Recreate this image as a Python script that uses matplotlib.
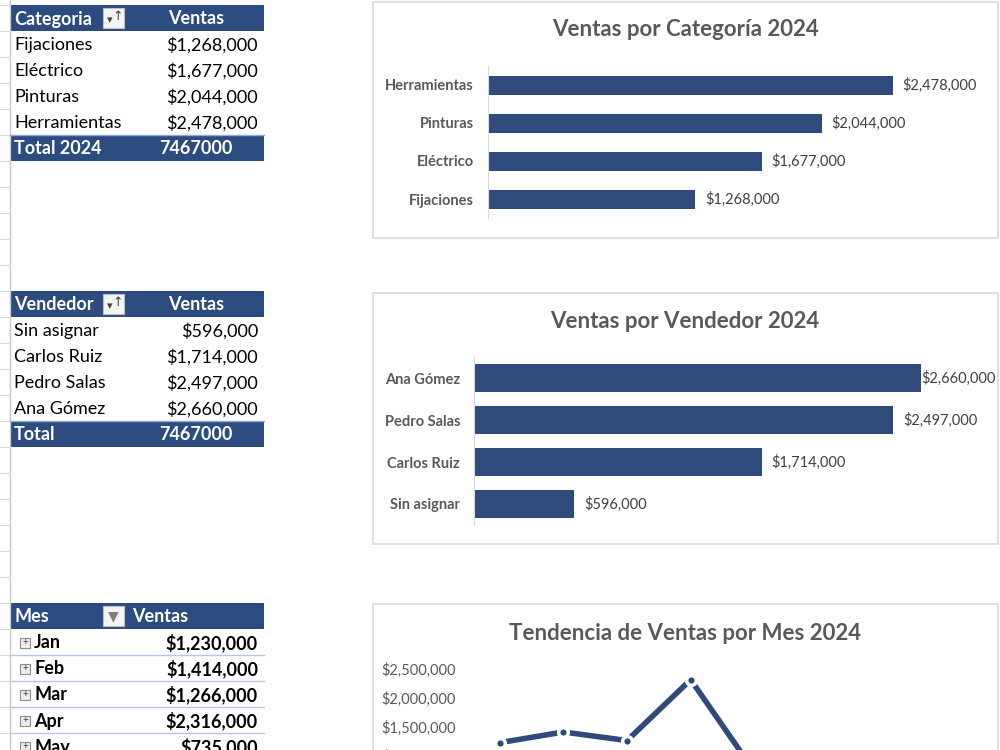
import matplotlib
matplotlib.use("Agg")
import matplotlib.pyplot as plt
import matplotlib.ticker as ticker
from matplotlib.patches import Rectangle

plt.rcParams['font.family'] = ['Lato', 'DejaVu Sans']

# data
categorias = ['Fijaciones', 'Eléctrico', 'Pinturas', 'Herramientas']
ventas_cat = [1268000, 1677000, 2044000, 2478000]

vendedores = ['Sin asignar', 'Carlos Ruiz', 'Pedro Salas', 'Ana Gómez']
ventas_vend = [596000, 1714000, 2497000, 2660000]

meses = ['Jan', 'Feb', 'Mar', 'Apr', 'May']
ventas_mes = [1230000, 1414000, 1266000, 2316000, 735000]
n_meses_eje = 8  # categories on the chart axis (only the first ones are visible)

AZUL = '#2C4C80'
BARRA = '#2F4B7C'
GRIS_T = '#595959'
GRIS_V = '#404040'
W, H = 1000, 750
FS_TAB = 13


def px_axes(left, top, right, bottom):
    # pixel box (y from top) -> figure fraction rect
    return [left / W, 1 - bottom / H, (right - left) / W, (bottom - top) / H]


def money(v, pos=None):
    return "${:,.0f}".format(v)


fig = plt.figure(figsize=(10, 7.5), dpi=100)
bg = fig.add_axes([0, 0, 1, 1])
bg.set_xlim(0, W)
bg.set_ylim(H, 0)
bg.axis('off')

# spreadsheet row gridlines on the left edge
bg.plot([10, 10], [0, H], color='#C8C8C8', lw=1)
for k in range(29):
    y = 5 + 26 * k
    bg.plot([0, 10], [y, y], color='#D9D9D9', lw=0.8)


def header(y0, name, icon='sort', ventas_x=168):
    bg.add_patch(Rectangle((10, y0), 254, 26, color=AZUL, lw=0))
    bg.text(14, y0 + 14, name, color='white', fontsize=FS_TAB, fontweight='bold', va='center')
    bg.text(ventas_x, y0 + 14, 'Ventas', color='white', fontsize=FS_TAB, fontweight='bold',
            va='center')
    bg.add_patch(Rectangle((103, y0 + 3), 21, 20, facecolor='#F4F4F4', edgecolor='#BFBFBF', lw=0.8))
    if icon == 'sort':
        bg.text(110, y0 + 15, '▾', color='#404040', fontsize=8, ha='center', va='center',
                family=['DejaVu Sans'])
        bg.text(118, y0 + 12, '↑', color='#404040', fontsize=9, ha='center', va='center',
                family=['DejaVu Sans'])
    else:
        bg.text(113.5, y0 + 13, '▼', color='#7F7F7F', fontsize=10, ha='center', va='center',
                family=['DejaVu Sans'])


def tabla(y0, titulo, nombres, valores, total_label):
    header(y0, titulo)
    for i, (n, v) in enumerate(zip(nombres, valores)):
        yc = y0 + 26 * (i + 1) + 14
        bg.text(14, yc, n, color='black', fontsize=FS_TAB, va='center')
        bg.text(258, yc, money(v), color='black', fontsize=FS_TAB, va='center', ha='right')
    yt = y0 + 26 * (len(nombres) + 1)
    bg.add_patch(Rectangle((10, yt), 254, 26, color=AZUL, lw=0))
    bg.plot([10, 264], [yt, yt], color='#8EA9DB', lw=1)
    bg.text(14, yt + 14, total_label, color='white', fontsize=FS_TAB, fontweight='bold',
            va='center')
    bg.text(159, yt + 14, str(sum(valores)), color='white', fontsize=FS_TAB, fontweight='bold',
            va='center')


tabla(5, 'Categoria', categorias, ventas_cat, 'Total 2024')
tabla(291, 'Vendedor', vendedores, ventas_vend, 'Total')

# month table (cut at bottom)
header(603, 'Mes', icon='drop', ventas_x=132)
for i, (m, v) in enumerate(zip(meses, ventas_mes)):
    yc = 603 + 26 * (i + 1) + 14
    bg.add_patch(Rectangle((20, yc - 5), 10, 10, facecolor='#EDEDED', edgecolor='#8C8C8C', lw=0.8))
    bg.text(25, yc, '+', color='#404040', fontsize=7, ha='center', va='center')
    bg.text(34, yc, m, color='black', fontsize=FS_TAB, fontweight='bold', va='center')
    bg.text(258, yc, money(v), color='black', fontsize=FS_TAB, fontweight='bold', va='center',
            ha='right')
    bg.plot([10, 264], [yc + 12, yc + 12], color='#B4C6E7', lw=1)

# chart frames
for top, bottom in [(2, 238), (293, 544), (604, 770)]:
    bg.add_patch(Rectangle((373, top), 625, bottom - top, facecolor='white',
                           edgecolor='#D9D9D9', lw=1.2, zorder=0))

for yc, titulo in [(30, 'Ventas por Categoría 2024'), (322, 'Ventas por Vendedor 2024'),
                   (633, 'Tendencia de Ventas por Mes 2024')]:
    bg.text(685, yc, titulo, color=GRIS_T, fontsize=16, fontweight='bold',
            ha='center', va='center')


def barras(rect, nombres, valores, alto):
    ax = fig.add_axes(rect)
    ax.barh(range(len(nombres)), valores, height=alto, color=BARRA)
    ax.set_xlim(0, 3000000)
    ax.set_ylim(-0.5, len(nombres) - 0.5)
    ax.set_yticks(range(len(nombres)))
    ax.set_yticklabels(nombres, color=GRIS_T, fontsize=10.5, fontweight='bold')
    ax.tick_params(axis='y', length=0, pad=10)
    ax.set_xticks([])
    for s in ['top', 'right', 'bottom']:
        ax.spines[s].set_visible(False)
    ax.spines['left'].set_color('#D9D9D9')
    ax.patch.set_alpha(0)
    for i, v in enumerate(valores):
        # labels that would run past the chart frame sit right against the bar
        x_px = ax.transData.transform((v, i))[0]
        off = 7 if x_px + 80 < 995 else 0.5
        ax.annotate(money(v), xy=(v, i), xytext=(off, 0), textcoords='offset points',
                    va='center', ha='left', color=GRIS_V, fontsize=10.5)
    return ax


barras(px_axes(488, 66, 978, 218), categorias, ventas_cat, 0.5)
barras(px_axes(474, 357, 978, 525), vendedores, ventas_vend, 0.65)

# monthly trend line
ax3 = fig.add_axes(px_axes(468, 669, 977, 814))
ax3.plot(range(len(meses)), ventas_mes, color=BARRA, lw=4, marker='o', markersize=7,
         markerfacecolor=BARRA, markeredgecolor='white', markeredgewidth=2.5)
ax3.set_xlim(-0.5, n_meses_eje - 0.5)
ax3.set_ylim(0, 2500000)
ax3.set_yticks(range(0, 2500001, 500000))
ax3.yaxis.set_major_formatter(ticker.FuncFormatter(money))
ax3.tick_params(axis='y', length=0, pad=9, labelsize=10.5, labelcolor=GRIS_T)
ax3.set_xticks([])
for s in ax3.spines.values():
    s.set_visible(False)
ax3.patch.set_alpha(0)

plt.savefig('out.png', dpi=100)
plt.close()
